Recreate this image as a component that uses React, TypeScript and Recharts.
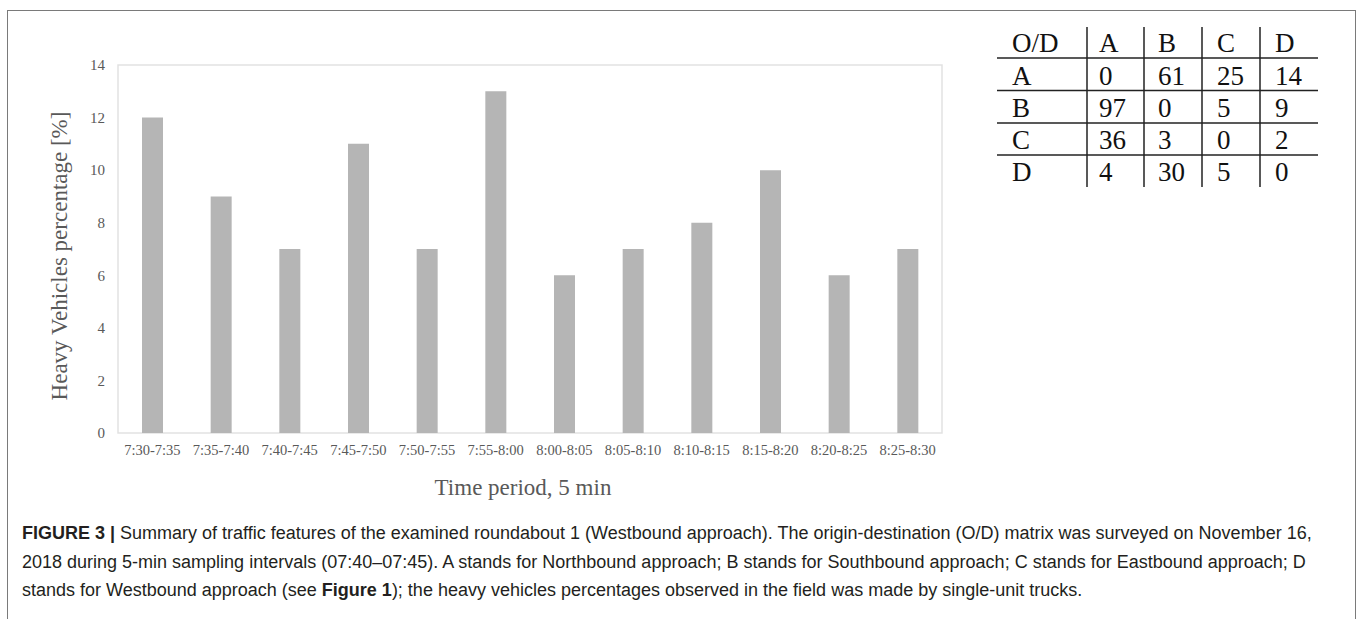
import { Bar, BarChart, ReferenceArea, XAxis, YAxis } from "recharts";

const periods = [
  "7:30-7:35",
  "7:35-7:40",
  "7:40-7:45",
  "7:45-7:50",
  "7:50-7:55",
  "7:55-8:00",
  "8:00-8:05",
  "8:05-8:10",
  "8:10-8:15",
  "8:15-8:20",
  "8:20-8:25",
  "8:25-8:30",
];
const heavyPct = [12, 9, 7, 11, 7, 13, 6, 7, 8, 10, 6, 7];
const yTicks = [0, 2, 4, 6, 8, 10, 12, 14];

const odHeader = ["O/D", "A", "B", "C", "D"];
const odRows = [
  ["A", "0", "61", "25", "14"],
  ["B", "97", "0", "5", "9"],
  ["C", "36", "3", "0", "2"],
  ["D", "4", "30", "5", "0"],
];

const data = periods.map((p, i) => ({ period: p, pct: heavyPct[i] }));

const SERIF = "'Liberation Serif', 'Times New Roman', serif";
const SANS = "'Liberation Sans', Arial, Helvetica, sans-serif";
const AXIS_GREY = "#595959";
const BOX = "#e2e2e2";

// O/D matrix drawn as plain svg, it is not part of the chart
function OdTable() {
  const colX = [1012, 1099, 1158, 1217, 1275];
  const rowY = [52, 84.5, 117, 149, 181];
  const hLines = [58, 90.5, 123, 155];
  const vLines = [1087, 1144, 1202, 1260];
  const rows = [odHeader, ...odRows];
  return (
    <svg width={1357} height={200} style={{ position: "absolute", left: 0, top: 0 }}>
      {hLines.map((y) => (
        <line key={"h" + y} x1={997} x2={1318} y1={y} y2={y} stroke="#222" strokeWidth={1.5} />
      ))}
      {vLines.map((x) => (
        <line key={"v" + x} x1={x} x2={x} y1={27} y2={187} stroke="#222" strokeWidth={1.5} />
      ))}
      {rows.map((r, ri) =>
        r.map((cell, ci) => (
          <text
            key={ri + "-" + ci}
            x={colX[ci]}
            y={rowY[ri]}
            fontFamily={SERIF}
            fontSize={27}
            fill="#111"
          >
            {cell}
          </text>
        ))
      )}
    </svg>
  );
}

export default function App() {
  return (
    <div
      style={{
        position: "absolute",
        left: 0,
        top: 0,
        width: 1357,
        height: 619,
        overflow: "hidden",
        background: "#fff",
      }}
    >
      <div
        style={{
          position: "absolute",
          left: 7,
          top: 10,
          width: 1347,
          height: 700,
          border: "1.5px solid #7a7a7a",
        }}
      />

      <div style={{ position: "absolute", left: 0, top: 0 }}>
        <BarChart
          width={960}
          height={520}
          data={data}
          margin={{ top: 65, right: 18, bottom: 57, left: 0 }}
          barCategoryGap={0}
        >
          <ReferenceArea
            y1={0}
            y2={14}
            fill="none"
            stroke={BOX}
            strokeWidth={1.5}
            ifOverflow="visible"
          />
          <XAxis
            dataKey="period"
            interval={0}
            height={30}
            tickLine={false}
            tickSize={0}
            tickMargin={12}
            axisLine={false}
            tick={{ fontSize: 14.5, fill: AXIS_GREY, fontFamily: SERIF }}
            label={{
              content: (props: any) => {
                const vb = props.viewBox;
                return (
                  <text
                    x={vb.x + vb.width / 2 - 7}
                    y={vb.y + 62}
                    textAnchor="middle"
                    fontFamily={SERIF}
                    fontSize={23}
                    fill={AXIS_GREY}
                  >
                    Time period, 5 min
                  </text>
                );
              },
            }}
          />
          <YAxis
            width={118}
            domain={[0, 14]}
            ticks={yTicks}
            tickLine={false}
            tickSize={0}
            tickMargin={13}
            axisLine={false}
            tick={{ fontSize: 15, fill: AXIS_GREY, fontFamily: SERIF }}
            label={{
              content: (props: any) => {
                const vb = props.viewBox;
                const cx = 59;
                const cy = vb.y + vb.height / 2 + 7;
                return (
                  <text
                    x={cx}
                    y={cy}
                    transform={`rotate(-90 ${cx} ${cy})`}
                    textAnchor="middle"
                    dominantBaseline="central"
                    fontFamily={SERIF}
                    fontSize={23}
                    fill={AXIS_GREY}
                  >
                    Heavy Vehicles percentage [%]
                  </text>
                );
              },
            }}
          />
          <Bar dataKey="pct" fill="#b5b5b5" barSize={21} isAnimationActive={false} />
        </BarChart>
      </div>

      <OdTable />

      <div
        style={{
          position: "absolute",
          left: 22,
          top: 519,
          fontFamily: SANS,
          fontSize: 18,
          lineHeight: "28.5px",
          color: "#231f20",
          whiteSpace: "nowrap",
        }}
      >
        <div>
          <b>FIGURE 3 |</b> Summary of traffic features of the examined roundabout 1 (Westbound
          approach). The origin-destination (O/D) matrix was surveyed on November 16,
        </div>
        <div>
          2018 during 5-min sampling intervals (07:40–07:45). A stands for Northbound approach; B
          stands for Southbound approach; C stands for Eastbound approach; D
        </div>
        <div>
          stands for Westbound approach (see <b>Figure 1</b>); the heavy vehicles percentages
          observed in the field was made by single-unit trucks.
        </div>
      </div>
    </div>
  );
}
